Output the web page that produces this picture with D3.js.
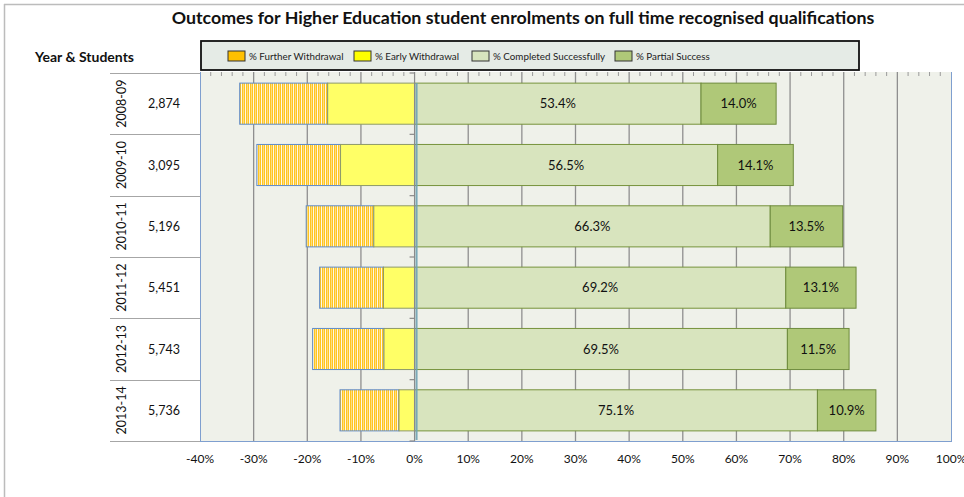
<!DOCTYPE html>
<html><head><meta charset="utf-8">
<script src="https://cdn.jsdelivr.net/npm/d3@7"></script>
<style>
body{margin:0;background:#fff;}
svg{display:block;font-family:Lato,"Open Sans",sans-serif;}
</style></head><body>
<svg id="c" width="964" height="497"></svg>
<script>
const years = ["2008-09","2009-10","2010-11","2011-12","2012-13","2013-14"];
const students = ["2,874","3,095","5,196","5,451","5,743","5,736"];
const furtherWithdrawal = [16.4,15.6,12.6,11.9,13.3,11.0];
const earlyWithdrawal = [16.2,13.8,7.6,5.8,5.7,2.9];
const completed = [53.4,56.5,66.3,69.2,69.5,75.1];
const partial = [14.0,14.1,13.5,13.1,11.5,10.9];
const xTicks = [-40,-30,-20,-10,0,10,20,30,40,50,60,70,80,90,100];
const seriesNames = ["% Further Withdrawal","% Early Withdrawal","% Completed Successfully","% Partial Success"];

const svg = d3.select("#c");
const L=200, R=951, T=72, B=441;
const x = d3.scaleLinear().domain([-40,100]).range([L,R]);
const y = d3.scaleBand().domain(years).range([73,441]).paddingInner(0.33).paddingOuter(0.165);

// stripe pattern
const defs = svg.append("defs");
const p = defs.append("pattern").attr("id","stripes").attr("patternUnits","userSpaceOnUse")
  .attr("width",4).attr("height",10);
p.append("rect").attr("width",4).attr("height",10).attr("fill","#FFC520");
p.append("rect").attr("x",1).attr("width",1).attr("height",10).attr("fill","#FFF8E4");
p.append("rect").attr("x",3).attr("width",1).attr("height",10).attr("fill","#FFDD80");

// outer frame lines
svg.append("line").attr("x1",4).attr("x2",964).attr("y1",4.5).attr("y2",4.5).attr("stroke","#bcbcbc").attr("stroke-width",1.5);
svg.append("line").attr("x1",4.5).attr("x2",4.5).attr("y1",4).attr("y2",497).attr("stroke","#bcbcbc").attr("stroke-width",1.5);

// title
svg.append("text").attr("x",523).attr("y",24).attr("text-anchor","middle")
  .attr("font-weight","bold").attr("font-size",17.8).attr("fill","#111")
  .text("Outcomes for Higher Education student enrolments on full time recognised qualifications");

// plot background
svg.append("rect").attr("x",L).attr("y",T).attr("width",R-L).attr("height",B-T).attr("fill","#EFF1EA");

// gridlines
svg.append("g").selectAll("line").data(xTicks.filter(d=>d!==0 && d!==-40 && d!==100)).join("line")
  .attr("x1",d=>x(d)).attr("x2",d=>x(d)).attr("y1",T).attr("y2",B)
  .attr("stroke","#8f8f8f").attr("stroke-width",1.3);

// top minor ticks
svg.append("g").selectAll("line").data(d3.range(-40,101,2)).join("line")
  .attr("x1",d=>x(d)).attr("x2",d=>x(d)).attr("y1",T).attr("y2",d=>d%10===0?T:T+4)
  .attr("stroke","#9a9a9a").attr("stroke-width",1);

// plot border
svg.append("line").attr("x1",L+0.5).attr("x2",L+0.5).attr("y1",T).attr("y2",B).attr("stroke","#7f9fcf");
svg.append("line").attr("x1",R+0.5).attr("x2",R+0.5).attr("y1",T).attr("y2",B).attr("stroke","#7f9fcf");
svg.append("line").attr("x1",L).attr("x2",R+1).attr("y1",B+0.5).attr("y2",B+0.5).attr("stroke","#7f9fcf");

// bars
const rows = years.map((yr,i)=>({yr,fw:furtherWithdrawal[i],ew:earlyWithdrawal[i],c:completed[i],p:partial[i]}));
const g = svg.append("g");
const bh = y.bandwidth();
rows.forEach(r=>{
  const yy = y(r.yr);
  g.append("rect").attr("x",x(-r.ew-r.fw)).attr("y",yy).attr("width",x(-r.ew)-x(-r.ew-r.fw)).attr("height",bh)
    .attr("fill","url(#stripes)").attr("stroke","#5F8BC9").attr("stroke-width",1);
  g.append("rect").attr("x",x(-r.ew)).attr("y",yy).attr("width",x(0)-x(-r.ew)).attr("height",bh)
    .attr("fill","#FFFF66").attr("stroke","#8E9A6A").attr("stroke-width",1);
  g.append("rect").attr("x",x(0)).attr("y",yy).attr("width",x(r.c)-x(0)).attr("height",bh)
    .attr("fill","#D8E4BE").attr("stroke","#77933C").attr("stroke-width",1);
  g.append("rect").attr("x",x(r.c)).attr("y",yy).attr("width",x(r.c+r.p)-x(r.c)).attr("height",bh)
    .attr("fill","#AFC878").attr("stroke","#6E8B3D").attr("stroke-width",1);
  g.append("text").attr("x",(x(0)+x(r.c))/2).attr("y",yy+bh/2+4.5).attr("text-anchor","middle")
    .attr("font-size",13).attr("fill","#111").text(r.c.toFixed(1)+"%");
  g.append("text").attr("x",(x(r.c)+x(r.c+r.p))/2).attr("y",yy+bh/2+4.5).attr("text-anchor","middle")
    .attr("font-size",13).attr("fill","#111").text(r.p.toFixed(1)+"%");
});

// zero axis
svg.append("line").attr("x1",x(0)).attr("x2",x(0)).attr("y1",T).attr("y2",B).attr("stroke","#8a8a8a").attr("stroke-width",1.2);
svg.append("line").attr("x1",x(0)+2).attr("x2",x(0)+2).attr("y1",y(years[0])).attr("y2",B-1)
  .attr("stroke","#6FA3B3").attr("stroke-width",2).attr("opacity",0.9);
const rowEdges = d3.range(7).map(i=>73+i*(441-73)/6);
svg.append("g").selectAll("line").data(rowEdges).join("line")
  .attr("x1",x(0)-5).attr("x2",x(0)).attr("y1",d=>d).attr("y2",d=>d)
  .attr("stroke","#8a8a8a").attr("stroke-width",1.2);

// left labels area
svg.append("g").selectAll("line").data(rowEdges).join("line")
  .attr("x1",110).attr("x2",L).attr("y1",d=>Math.round(d)+0.5).attr("y2",d=>Math.round(d)+0.5)
  .attr("stroke","#a6a6a6").attr("stroke-width",1.2);
const cy = d=>y(d)+bh/2;
svg.append("g").selectAll("text").data(years).join("text")
  .attr("transform",d=>`translate(126,${cy(d)}) rotate(-90)`).attr("text-anchor","middle")
  .attr("font-size",12.5).attr("fill","#111").text(d=>d);
svg.append("g").selectAll("text").data(years).join("text")
  .attr("x",164).attr("y",d=>cy(d)+4.5).attr("text-anchor","middle")
  .attr("font-size",12.5).attr("fill","#111").text((d,i)=>students[i]);
svg.append("text").attr("x",35).attr("y",62).attr("font-weight","bold").attr("font-size",14).attr("fill","#111")
  .text("Year & Students");

// x axis labels
svg.append("g").selectAll("text").data(xTicks).join("text")
  .attr("x",d=>x(d)).attr("y",463).attr("text-anchor","middle").attr("font-size",12).attr("fill","#111")
  .text(d=>d+"%");

// legend
const lg = svg.append("g");
lg.append("rect").attr("x",201).attr("y",41).attr("width",658).attr("height",29)
  .attr("fill","#E5EBE6").attr("stroke","#111").attr("stroke-width",1.8);
const swFill = ["#FFC000","#FFFF00","#D8E4BE","#AFC878"];
const legendX = [228,354,472,615];
seriesNames.forEach((n,i)=>{
  const lx = legendX[i];
  lg.append("rect").attr("x",lx).attr("y",51).attr("width",17).attr("height",10)
    .attr("fill",swFill[i]).attr("stroke","#333").attr("stroke-width",1);
  lg.append("text").attr("x",lx+21).attr("y",60).attr("font-size",9.8).attr("fill","#222").text(n);
});
</script>
</body></html>
